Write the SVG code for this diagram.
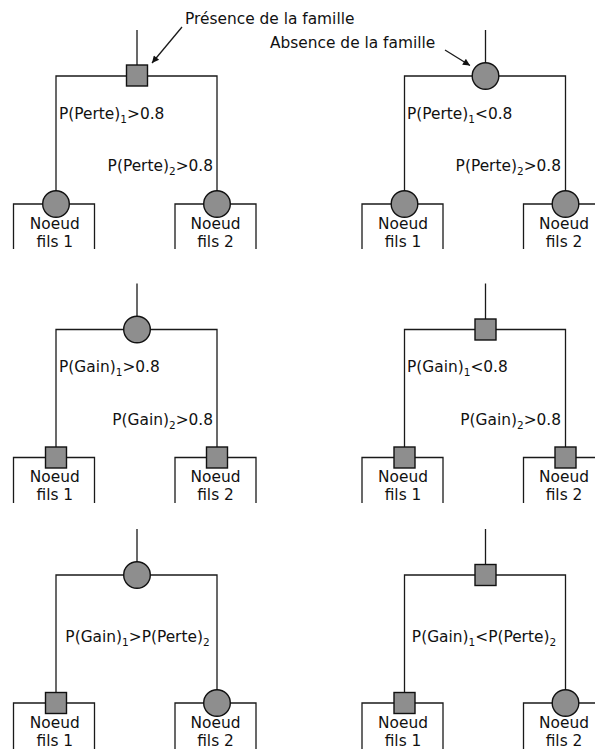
<svg xmlns="http://www.w3.org/2000/svg" width="595" height="749" viewBox="0 0 595 749">
<style>
text{font-family:"DejaVu Sans","Liberation Sans",sans-serif;font-size:15.4px;fill:#111}
.c{text-anchor:middle}
.e{text-anchor:end}
.sub{font-size:10.5px}
.ln{fill:none;stroke:#1a1a1a;stroke-width:1.3}
.box{fill:none;stroke:#1a1a1a;stroke-width:1.3}
.sh{fill:#8e8e8e;stroke:#111;stroke-width:1.4}
</style>
<defs>
<marker id="ah" viewBox="0 0 10 10" refX="10" refY="5" markerWidth="10" markerHeight="7" markerUnits="userSpaceOnUse" orient="auto">
<path d="M0,0 L10,5 L0,10 Z" fill="#111"/>
</marker>
</defs>
<rect width="595" height="749" fill="#fff"/>

<g id="connectors">
  <path class="ln" d="M137,30 V76 M56,204 V76 H217 V204"/>
  <path class="ln" d="M485.5,30 V76 M404.5,204 V76 H565.5 V204"/>
  <path class="ln" d="M137,283.5 V329.5 M56,457.5 V329.5 H217 V457.5"/>
  <path class="ln" d="M485.5,283.5 V329.5 M404.5,457.5 V329.5 H565.5 V457.5"/>
  <path class="ln" d="M137,529 V575 M56,703 V575 H217 V703"/>
  <path class="ln" d="M485.5,529 V575 M404.5,703 V575 H565.5 V703"/>
  <g id="edge-labels">
    <text x="59" y="118.5">P(Perte)<tspan class="sub" dy="4">1</tspan><tspan dy="-4">&gt;0.8</tspan></text>
    <text class="e" x="213" y="171">P(Perte)<tspan class="sub" dy="4">2</tspan><tspan dy="-4">&gt;0.8</tspan></text>
    <text x="407" y="118.5">P(Perte)<tspan class="sub" dy="4">1</tspan><tspan dy="-4">&lt;0.8</tspan></text>
    <text class="e" x="561" y="171">P(Perte)<tspan class="sub" dy="4">2</tspan><tspan dy="-4">&gt;0.8</tspan></text>
    <text x="59" y="372">P(Gain)<tspan class="sub" dy="4">1</tspan><tspan dy="-4">&gt;0.8</tspan></text>
    <text class="e" x="213" y="424.5">P(Gain)<tspan class="sub" dy="4">2</tspan><tspan dy="-4">&gt;0.8</tspan></text>
    <text x="407" y="372">P(Gain)<tspan class="sub" dy="4">1</tspan><tspan dy="-4">&lt;0.8</tspan></text>
    <text class="e" x="561" y="424.5">P(Gain)<tspan class="sub" dy="4">2</tspan><tspan dy="-4">&gt;0.8</tspan></text>
    <text class="c" x="137.5" y="642">P(Gain)<tspan class="sub" dy="4">1</tspan><tspan dy="-4">&gt;P(Perte)</tspan><tspan class="sub" dy="4">2</tspan></text>
    <text class="c" x="484" y="642">P(Gain)<tspan class="sub" dy="4">1</tspan><tspan dy="-4">&lt;P(Perte)</tspan><tspan class="sub" dy="4">2</tspan></text>
  </g>
</g>

<g id="annotations">
  <text x="185" y="24">Présence de la famille</text>
  <line class="ln" x1="182" y1="27" x2="152" y2="63" marker-end="url(#ah)"/>
  <text x="270" y="48">Absence de la famille</text>
  <line class="ln" x1="445" y1="50" x2="470" y2="65.5" marker-end="url(#ah)"/>
</g>

<!-- Row 1 -->
<g id="r1-left-root"><rect class="sh" x="126.5" y="65" width="21" height="21"/></g>
<g id="r1-left-child1">
  <path class="box" d="M13.5,249 V204 H94.5 V249"/>
  <circle class="sh" cx="56" cy="204" r="13.3"/>
  <text class="c" x="54.8" y="228.5">Noeud</text><text class="c" x="54.8" y="246.5">fils 1</text>
</g>
<g id="r1-left-child2">
  <path class="box" d="M175,249 V204 H256 V249"/>
  <circle class="sh" cx="217" cy="204" r="13.3"/>
  <text class="c" x="215.5" y="228.5">Noeud</text><text class="c" x="215.5" y="246.5">fils 2</text>
</g>
<g id="r1-right-root"><circle class="sh" cx="485.5" cy="76" r="13.3"/></g>
<g id="r1-right-child1">
  <path class="box" d="M362,249 V204 H443 V249"/>
  <circle class="sh" cx="404.5" cy="204" r="13.3"/>
  <text class="c" x="403" y="228.5">Noeud</text><text class="c" x="403" y="246.5">fils 1</text>
</g>
<g id="r1-right-child2">
  <path class="box" d="M523.5,249 V204 H604.5 V249"/>
  <circle class="sh" cx="565.5" cy="204" r="13.3"/>
  <text class="c" x="564" y="228.5">Noeud</text><text class="c" x="564" y="246.5">fils 2</text>
</g>

<!-- Row 2 -->
<g id="r2-left-root"><circle class="sh" cx="137" cy="329.5" r="13.3"/></g>
<g id="r2-left-child1">
  <path class="box" d="M13.5,503 V457.5 H94.5 V503"/>
  <rect class="sh" x="45.5" y="447" width="21" height="21"/>
  <text class="c" x="54.8" y="482">Noeud</text><text class="c" x="54.8" y="500">fils 1</text>
</g>
<g id="r2-left-child2">
  <path class="box" d="M175,503 V457.5 H256 V503"/>
  <rect class="sh" x="206.5" y="447" width="21" height="21"/>
  <text class="c" x="215.5" y="482">Noeud</text><text class="c" x="215.5" y="500">fils 2</text>
</g>
<g id="r2-right-root"><rect class="sh" x="475" y="319" width="21" height="21"/></g>
<g id="r2-right-child1">
  <path class="box" d="M362,503 V457.5 H443 V503"/>
  <rect class="sh" x="394" y="447" width="21" height="21"/>
  <text class="c" x="403" y="482">Noeud</text><text class="c" x="403" y="500">fils 1</text>
</g>
<g id="r2-right-child2">
  <path class="box" d="M523.5,503 V457.5 H604.5 V503"/>
  <rect class="sh" x="555" y="447" width="21" height="21"/>
  <text class="c" x="564" y="482">Noeud</text><text class="c" x="564" y="500">fils 2</text>
</g>

<!-- Row 3 -->
<g id="r3-left-root"><circle class="sh" cx="137" cy="575" r="13.3"/></g>
<g id="r3-left-child1">
  <path class="box" d="M13.5,750 V703 H94.5 V750"/>
  <rect class="sh" x="45.5" y="692.5" width="21" height="21"/>
  <text class="c" x="54.8" y="727.5">Noeud</text><text class="c" x="54.8" y="745.5">fils 1</text>
</g>
<g id="r3-left-child2">
  <path class="box" d="M175,750 V703 H256 V750"/>
  <circle class="sh" cx="217" cy="703" r="13.3"/>
  <text class="c" x="215.5" y="727.5">Noeud</text><text class="c" x="215.5" y="745.5">fils 2</text>
</g>
<g id="r3-right-root"><rect class="sh" x="475" y="564.5" width="21" height="21"/></g>
<g id="r3-right-child1">
  <path class="box" d="M362,750 V703 H443 V750"/>
  <rect class="sh" x="394" y="692.5" width="21" height="21"/>
  <text class="c" x="403" y="727.5">Noeud</text><text class="c" x="403" y="745.5">fils 1</text>
</g>
<g id="r3-right-child2">
  <path class="box" d="M523.5,750 V703 H604.5 V750"/>
  <circle class="sh" cx="565.5" cy="703" r="13.3"/>
  <text class="c" x="564" y="727.5">Noeud</text><text class="c" x="564" y="745.5">fils 2</text>
</g>
</svg>
